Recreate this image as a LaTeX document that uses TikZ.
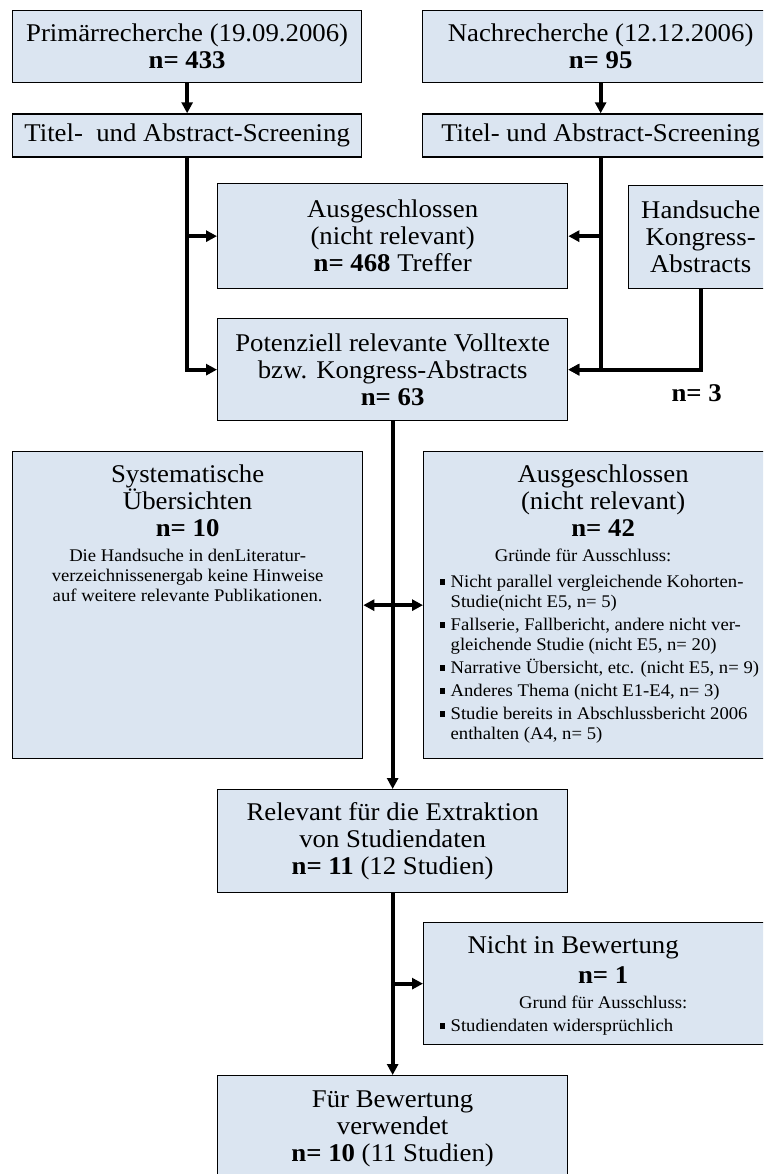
\documentclass[tikz,border=0pt]{standalone}
\usepackage{fontspec}
\setmainfont{Liberation Serif}[FakeStretch=1.05]
\usepackage{tikz}
\usetikzlibrary{arrows.meta,positioning}
\definecolor{boxblue}{RGB}{219,229,241}
\newcommand\bigtxt{\fontsize{25.5}{27}\selectfont}
\newcommand\smtxt{\fontsize{17.8}{20}\selectfont}
\newcommand\bul[1][3pt]{\par\vspace{#1}\noindent\hangindent=11pt\hangafter=1\makebox[11pt][l]{\rule[2.5pt]{5.5pt}{5.5pt}}}
\tikzset{
    box/.style={
    rectangle,draw=black,line width=1.3pt,fill=boxblue,anchor=north west,inner sep=0pt,align=center,font=\bigtxt
    },
    flow/.style={draw,line width=4pt,-{Triangle[length=11pt,width=11pt]}},
}

\begin{document}
\begin{tikzpicture}[x=1pt,y=-1pt]
\useasboundingbox (0,0) rectangle (763,1174);
\clip (0,0) rectangle (763,1174);

  % searches
  \node[box,minimum width=349pt,minimum height=72pt] (prim) at (12,10) {Primärrecherche (19.09.2006)\\\textbf{n= 433}};
  \node[box,minimum width=356pt,minimum height=72pt] (nach) at (422,10) {Nachrecherche (12.12.2006)\\\textbf{n= 95}};
  \node[box,minimum width=349pt,minimum height=43pt,below=30pt of prim.south west,anchor=north west] (titel1) {Titel-\ \ und Abstract-Screening};
  \node[box,minimum width=356pt,minimum height=43pt,below=30pt of nach.south west,anchor=north west] (titel2) {Titel- und Abstract-Screening};
  \path[flow] (prim) -- (titel1);
  \path[flow] (nach) -- (titel2);

  % screening
  \node[box,minimum width=350pt,minimum height=105pt] (aus1) at (217,183) {Ausgeschlossen\\(nicht relevant)\\\textbf{n= 468} Treffer};
  \node[box,minimum width=144pt,minimum height=103pt] (hand) at (628,185) {Handsuche\\Kongress-\\Abstracts};
  \node[box,minimum width=350pt,minimum height=102pt] (pot) at (217,318) {Potenziell relevante Volltexte\\bzw. Kongress-Abstracts\\\textbf{n= 63}};
  \path[flow] (titel1.south) |- (aus1.west);
  \path[flow] (titel1.south) |- (pot.west);
  \path[flow] (titel2.south) |- (aus1.east);
  \path[flow] (titel2.south) |- (pot.east);
  \path[flow] (hand.south) |- node[below=10pt,xshift=-4pt,font=\bigtxt\bfseries] (nhand) {n= 3} (pot.east);

  % full texts
  \node[box] (sys) at (12,451) {\parbox[c][307pt][t]{350pt}{\centering\vspace*{13pt}Systematische\\Übersichten\\\textbf{n= 10}\par\vspace{5pt}\smtxt Die Handsuche in denLiteratur-\\verzeichnissenergab keine Hinweise\\auf weitere relevante Publikationen.\par}};
  \node[box] (aus2) at (423,451) {\parbox[c][307pt][t]{377pt}{%
    {\centering\vspace*{13pt}Ausgeschlossen\kern18pt\\(nicht relevant)\kern18pt\\\textbf{n= 42}\kern18pt\par}
    \vspace{5pt}
    {\smtxt\centering Gründe für Ausschluss:\kern58pt\par}
    \smtxt\raggedright\leftskip=16pt
    \bul[6pt]Nicht parallel vergleichende Kohorten-\newline Studie(nicht E5, n= 5)
    \bul Fallserie, Fallbericht, andere nicht ver-\newline gleichende Studie (nicht E5, n= 20)
    \bul Narrative Übersicht, etc. (nicht E5, n= 9)
    \bul Anderes Thema (nicht E1-E4, n= 3)
    \bul Studie bereits in Abschlussbericht 2006\newline enthalten (A4, n= 5)\par}};
  \coordinate (split) at (pot.south |- sys.east);
  \path[flow] (split) -- (sys.east);
  \path[flow] (split) -- (aus2.west);

  % extraction
  \node[box,minimum width=350pt,minimum height=103pt] (rel) at (217,789) {Relevant für die Extraktion\\von Studiendaten\\\textbf{n= 11} (12 Studien)};
  \path[flow] (pot.south) -- (rel.north);
  \node[box] (nicht) at (423,922) {\parbox[c][122pt][t]{377pt}{%
    {\centering\vspace*{13pt}Nicht in Bewertung\kern78pt\\[3pt]\textbf{n= 1}\kern18pt\par}
    \vspace{5pt}
    {\smtxt\centering Grund für Ausschluss:\kern18pt\par}
    \smtxt\raggedright\leftskip=16pt
    \bul Studiendaten widersprüchlich\par}};
  \node[box,minimum width=350pt,minimum height=106pt] (fuer) at (217,1075) {Für Bewertung\\verwendet\\\textbf{n= 10} (11 Studien)};
  \coordinate (branch) at (rel.south |- nicht.west);
  \path[flow] (branch) -- (nicht.west);
  \path[flow] (rel.south) -- (fuer.north);
\end{tikzpicture}
\end{document}
